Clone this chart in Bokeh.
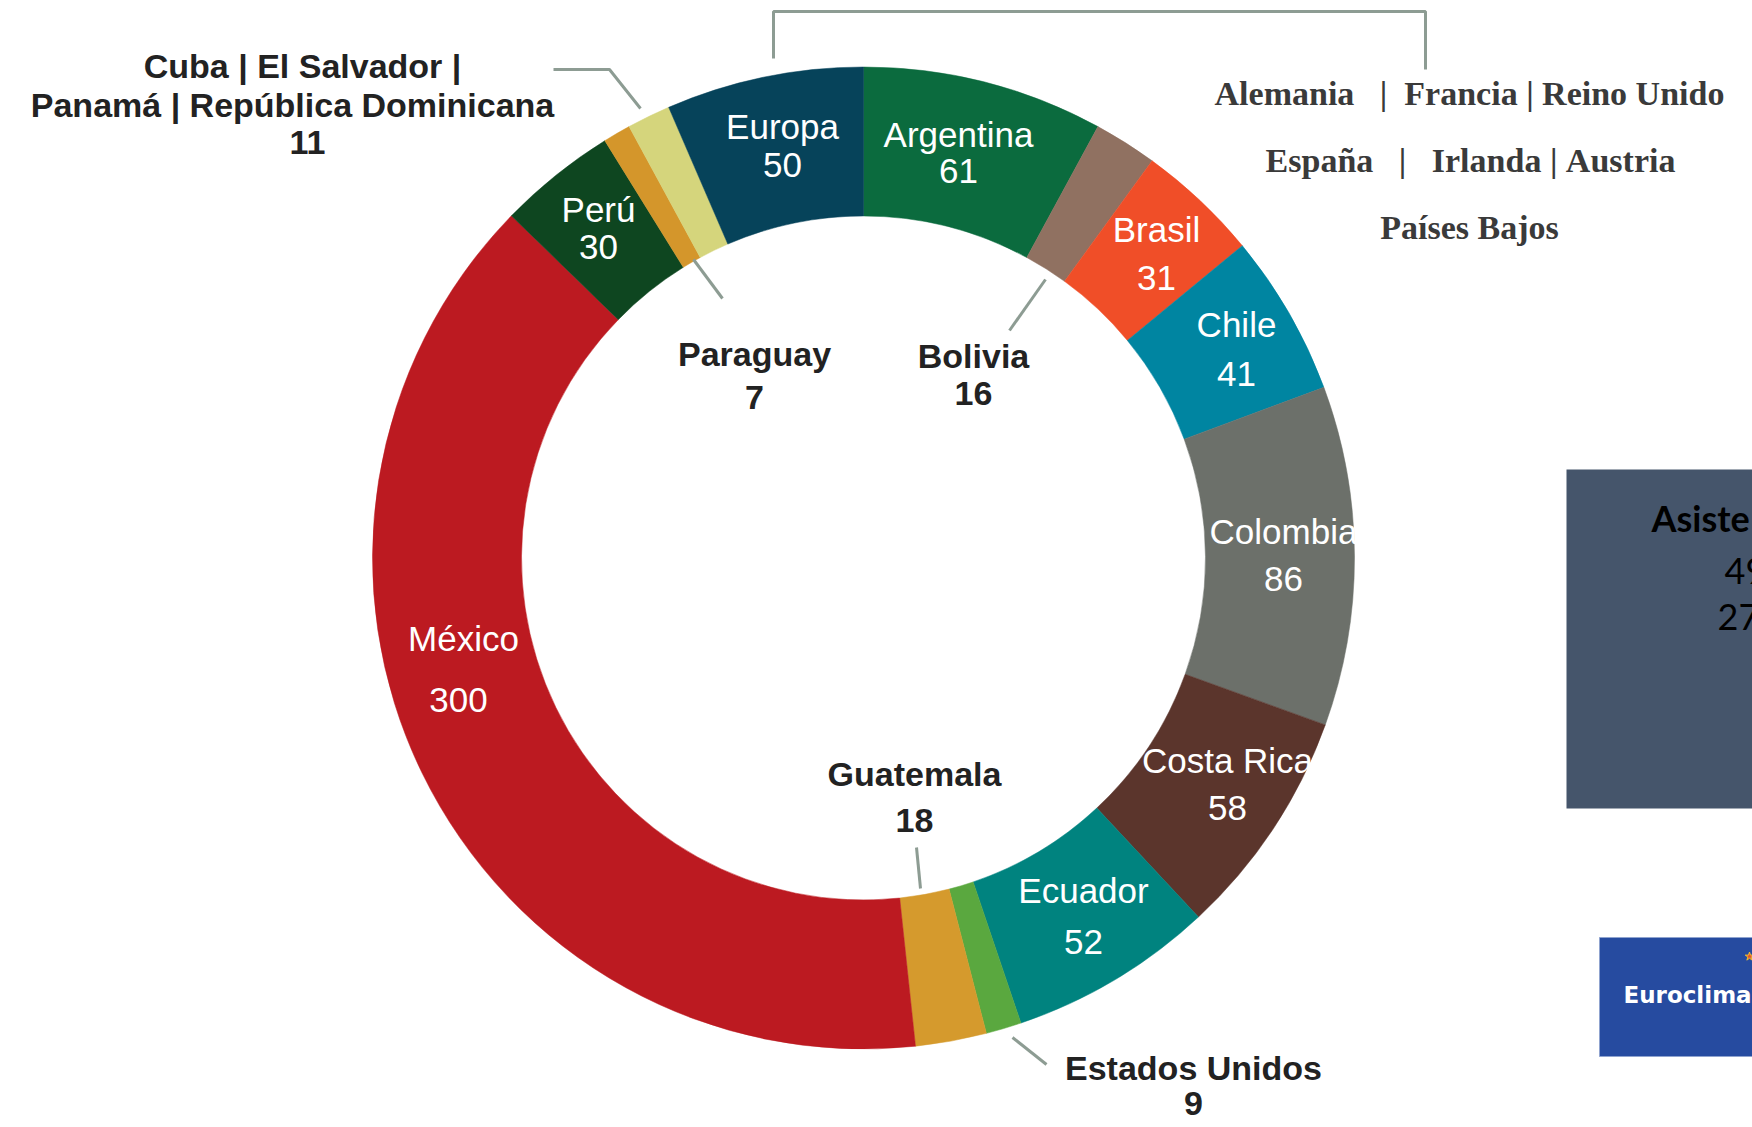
import math
from bokeh.plotting import figure
from bokeh.models import Range1d, ColumnDataSource
from bokeh.core.properties import value
from bokeh.embed import file_html
from bokeh.resources import INLINE

# ---------------- data ----------------
countries = ["Argentina", "Bolivia", "Brasil", "Chile", "Colombia", "Costa Rica",
             "Ecuador", "Estados Unidos", "Guatemala", "México", "Perú", "Paraguay",
             "Cuba | El Salvador | Panamá | República Dominicana", "Europa"]
values = [61, 16, 31, 41, 86, 58, 52, 9, 18, 300, 30, 7, 11, 50]
colors = ["#0b6b3e", "#907161", "#f04e28", "#0085a1", "#6c706a", "#5b352c",
          "#00837f", "#5aa83f", "#d59a2d", "#bc1a21", "#0e4620", "#d4962b",
          "#d5d57c", "#06435a"]

NB = "\u00a0"
europe_lines = ["Alemania" + NB * 3 + "|" + NB * 2 + "Francia" + NB + "|" + NB + "Reino Unido",
                "España" + NB * 3 + "|" + NB * 3 + "Irlanda" + NB + "|" + NB + "Austria",
                "Países Bajos"]

# ---------------- layout ----------------
W, H = 1752, 1127
M = 0


def px(x):
    return x - M


def py(y):
    return H - (y - M)


CX, CY = px(863), py(557.5)
R_OUT, R_IN = 491, 342

p = figure(width=W, height=H, output_backend="svg", toolbar_location=None,
           x_range=Range1d(0, W), y_range=Range1d(0, H), min_border=0,
           background_fill_color="white", border_fill_color="white")
p.axis.visible = False
p.grid.visible = False
p.outline_line_color = None

# wedges: clockwise from 12 o'clock
total = float(sum(values))
starts, ends = [], []
acc = 0.0
for v in values:
    a0 = acc / total * 2 * math.pi
    acc += v
    a1 = acc / total * 2 * math.pi
    starts.append(math.pi / 2 - a0)
    ends.append(math.pi / 2 - a1)

src = ColumnDataSource(dict(country=countries, value=values, color=colors,
                            start=starts, end=ends))
p.annular_wedge(x=CX, y=CY, inner_radius=R_IN, outer_radius=R_OUT,
                start_angle="start", end_angle="end", direction="clock",
                fill_color="color", line_color="color", line_width=0.5, source=src)

# leader lines
LC = "#8d9c93"
leaders = [
    [(773, 58), (773, 11), (1425, 11), (1425, 69)],
    [(553, 69), (609, 69), (640, 108)],
    [(693, 259), (722, 298)],
    [(1045, 279), (1009, 330)],
    [(916, 847), (920, 888)],
    [(1012, 1037), (1046, 1064)],
]
p.multi_line(xs=[[px(a) for a, b in L] for L in leaders],
             ys=[[py(b) for a, b in L] for L in leaders],
             line_color=LC, line_width=3)

# white labels inside the ring (name, value) positions in page px
idx = {c: i for i, c in enumerate(countries)}
white_pos = {
    "Europa": ((782, 126), (782, 164)),
    "Argentina": ((958, 134), (958, 170)),
    "Brasil": ((1156, 229), (1156, 277)),
    "Chile": ((1236, 324), (1236, 373)),
    "Colombia": ((1283, 531), (1283, 578)),
    "Costa Rica": ((1227, 760), (1227, 807)),
    "Ecuador": ((1083, 890), (1083, 941)),
    "México": ((463, 638), (458, 699)),
    "Perú": ((598, 209), (598, 246)),
}
wx, wy, wt = [], [], []
for name, (p1, p2) in white_pos.items():
    wx += [px(p1[0]), px(p2[0])]
    wy += [py(p1[1]), py(p2[1])]
    wt += [name, str(values[idx[name]])]
p.text(x=wx, y=wy, text=wt, text_color="white", text_font=value("Liberation Sans"),
       text_font_size="35px", text_align="center", text_baseline="middle")

# dark labels outside / inside
dark_pos = {
    "Paraguay": ((754, 353), (754, 397)),
    "Bolivia": ((973, 355), (973, 393)),
    "Guatemala": ((914, 773), (914, 820)),
    "Estados Unidos": ((1193, 1067), (1193, 1103)),
}
dx, dy, dt = [], [], []
for name, (p1, p2) in dark_pos.items():
    dx += [px(p1[0]), px(p2[0])]
    dy += [py(p1[1]), py(p2[1])]
    dt += [name, str(values[idx[name]])]
dx += [px(302), px(292), px(307)]
dy += [py(65), py(104), py(142)]
dt += ["Cuba | El Salvador |", "Panamá | República Dominicana", str(values[12])]
p.text(x=dx, y=dy, text=dt, text_color="#222222", text_font=value("Liberation Sans"),
       text_font_style="bold", text_font_size="34px", text_align="center",
       text_baseline="middle")

# europe list (serif)
p.text(x=[px(1469), px(1470), px(1469)], y=[py(93), py(160), py(227)], text=europe_lines,
       text_color="#3a3a3a", text_font=value("Liberation Serif"), text_font_style="bold",
       text_font_size="34px", text_align="center", text_baseline="middle")

# right box (cropped)
p.quad(left=px(1566), right=W + 20, bottom=py(808), top=py(469),
       fill_color="#45556b", line_color=None)
p.text(x=[px(1651)], y=[py(517)], text=["Asiste"], text_color="black",
       text_font=value("Lato"), text_font_style="bold", text_font_size="36px",
       text_align="left", text_baseline="middle")
p.text(x=[px(1724), px(1717)], y=[py(570), py(616)], text=["49", "27"], text_color="black",
       text_font=value("Lato"), text_font_size="36px",
       text_align="left", text_baseline="middle")

# logo box (cropped)
p.quad(left=px(1599), right=W + 20, bottom=py(1056), top=py(937),
       fill_color="#264ba0", line_color="#8fa3cf", line_width=1)
p.scatter(x=[px(1749)], y=[py(956)], marker="star", size=9,
          fill_color="#e8502b", line_color="#f0c030")
p.text(x=[px(1623)], y=[py(994)], text=["Euroclima"], text_color="white",
       text_font=value("DejaVu Sans"), text_font_style="bold", text_font_size="23px",
       text_align="left", text_baseline="middle")

open("out.html", "w").write(file_html(p, INLINE))
